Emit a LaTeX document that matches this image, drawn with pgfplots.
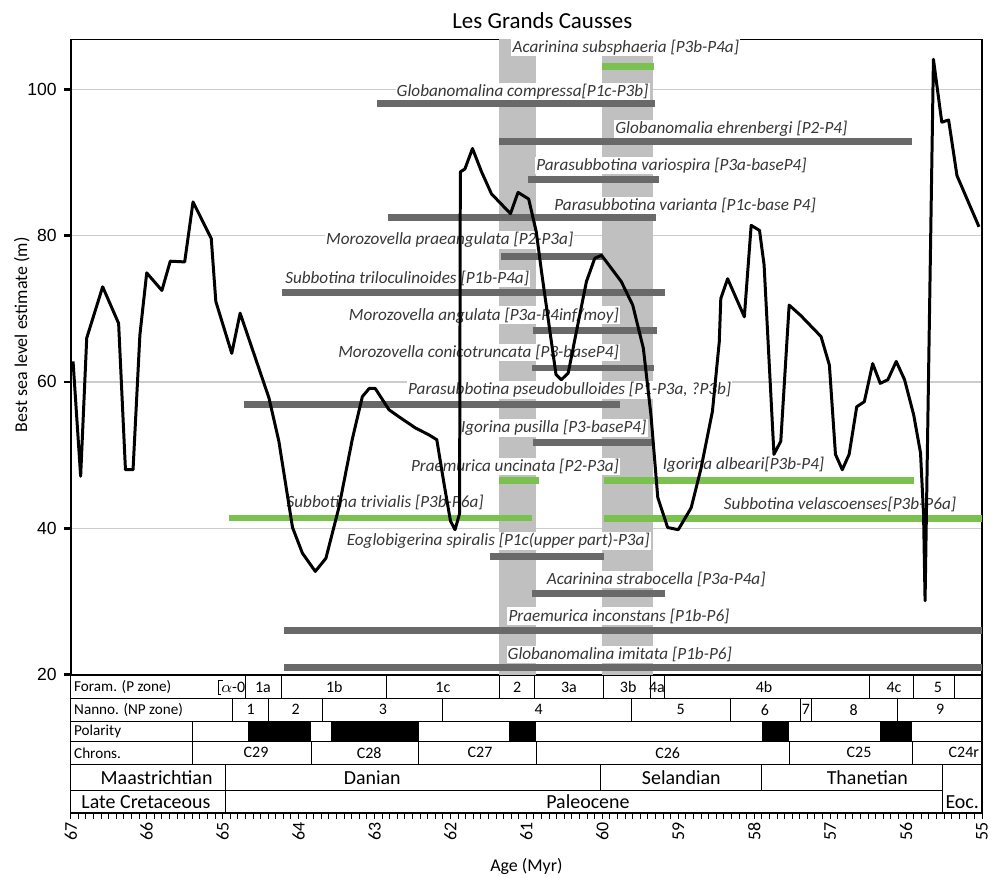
\documentclass[border=0pt]{standalone}
\usepackage{fontspec}
\setmainfont{Carlito}
\newfontfamily\arialf{Liberation Sans}
\usepackage{pgfplots}
\pgfplotsset{compat=1.18}
\definecolor{bargray}{RGB}{105,105,105}
\definecolor{bargreen}{RGB}{122,193,80}
\definecolor{bandgray}{RGB}{192,192,192}
\definecolor{labgray}{RGB}{55,55,55}
\tikzset{lab/.style={font=\itshape\fontsize{8.6}{10}\selectfont, text=labgray, fill=white, inner sep=0.6pt}}
\begin{document}
\begin{tikzpicture}
\useasboundingbox (0,0) rectangle (497pt,440.3pt);
\node[font=\fontsize{11.5}{13}\selectfont] at (272pt,430pt) {Les Grands Causses};
\begin{axis}[
 at={(35.5pt,102pt)}, anchor=south west,
 scale only axis, width=457pt, height=318.5pt,
 xmin=55, xmax=67, x dir=reverse,
 ymin=20, ymax=106.8,
 xtick=\empty,
 ytick={20,40,60,80,100},
 ytick pos=left, tick align=outside,
 major tick length=3.5pt,
 every tick/.style={black, line width=1.3pt},
 ymajorgrids, grid style={gray!40, line width=0.6pt},
 axis line style={line width=0.8pt},
 /pgf/number format/assume math mode=true,
 yticklabel style={font=\arialf\fontsize{8.8}{10}\selectfont},
 ylabel={Best sea level estimate (m)},
 ylabel style={font=\fontsize{9}{10}\selectfont, at={(axis description cs:-0.0536,0.535)}, anchor=center},
]
% gray bands
\addplot[draw=none, fill=bandgray] coordinates {(61.36,20) (60.88,20) (60.88,106.8) (61.36,106.8)};
\addplot[draw=none, fill=bandgray] coordinates {(60.00,20) (59.33,20) (59.33,106.8) (60.00,106.8)};
% labels
\node[lab] at (axis cs:59.69,105.7) {Acarinina subsphaeria [P3b-P4a]};
\node[lab] at (axis cs:61.05,99.7) {Globanomalina compressa[P1c-P3b]};
\node[lab] at (axis cs:58.30,94.6) {Globanomalia ehrenbergi [P2-P4]};
\node[lab] at (axis cs:59.09,89.6) {Parasubbotina variospira [P3a-baseP4]};
\node[lab] at (axis cs:58.91,84.1) {Parasubbotina varianta [P1c-base P4]};
\node[lab] at (axis cs:62.01,79.4) {Morozovella praeangulata [P2-P3a]};
\node[lab] at (axis cs:62.57,74.1) {Subbotina triloculinoides [P1b-P4a]};
\node[lab] at (axis cs:61.56,69.1) {Morozovella angulata [P3a-P4inf/moy]};
\node[lab] at (axis cs:61.63,64.0) {Morozovella conicotruncata [P3-baseP4]};
\node[lab] at (axis cs:60.43,58.9) {Parasubbotina pseudobulloides [P1-P3a, ?P3b]};
\node[lab] at (axis cs:60.64,53.7) {Igorina pusilla [P3-baseP4]};
\node[lab] at (axis cs:61.15,48.5) {Praemurica uncinata [P2-P3a]};
\node[lab] at (axis cs:58.14,48.7) {Igorina albeari[P3b-P4]};
\node[lab] at (axis cs:62.86,43.5) {Subbotina trivialis [P3b-P6a]};
\node[lab] at (axis cs:56.87,43.3) {Subbotina velascoenses[P3b-P6a]};
\node[lab] at (axis cs:61.37,38.3) {Eoglobigerina spiralis [P1c(upper part)-P3a]};
\node[lab] at (axis cs:59.29,33.0) {Acarinina strabocella [P3a-P4a]};
\node[lab] at (axis cs:59.78,28.0) {Praemurica inconstans [P1b-P6]};
\node[lab] at (axis cs:59.77,22.8) {Globanomalina imitata [P1b-P6]};
% range bars
\addplot[bargreen, line width=3.5pt] coordinates {(60.00,103.1) (59.32,103.1)};
\addplot[bargray, line width=3.5pt] coordinates {(62.97,98.1) (59.31,98.1)};
\addplot[bargray, line width=3.5pt] coordinates {(61.36,92.8) (55.92,92.8)};
\addplot[bargray, line width=3.5pt] coordinates {(60.98,87.7) (59.25,87.7)};
\addplot[bargray, line width=3.5pt] coordinates {(62.82,82.5) (59.29,82.5)};
\addplot[bargray, line width=3.5pt] coordinates {(61.33,77.2) (59.99,77.2)};
\addplot[bargray, line width=3.5pt] coordinates {(64.22,72.2) (59.18,72.2)};
\addplot[bargray, line width=3.5pt] coordinates {(60.91,67.0) (59.28,67.0)};
\addplot[bargray, line width=3.5pt] coordinates {(60.92,61.9) (59.32,61.9)};
\addplot[bargray, line width=3.5pt] coordinates {(64.72,56.9) (59.77,56.9)};
\addplot[bargray, line width=3.5pt] coordinates {(60.91,51.7) (59.32,51.7)};
\addplot[bargreen, line width=3.5pt] coordinates {(61.36,46.5) (60.83,46.5)};
\addplot[bargreen, line width=3.5pt] coordinates {(59.98,46.5) (55.90,46.5)};
\addplot[bargreen, line width=3.5pt] coordinates {(64.91,41.4) (60.93,41.4)};
\addplot[bargreen, line width=3.5pt] coordinates {(59.98,41.3) (55.00,41.3)};
\addplot[bargray, line width=3.5pt] coordinates {(61.48,36.2) (59.98,36.2)};
\addplot[bargray, line width=3.5pt] coordinates {(60.93,31.1) (59.17,31.1)};
\addplot[bargray, line width=3.5pt] coordinates {(64.19,26.0) (55.00,26.0)};
\addplot[bargray, line width=3.5pt] coordinates {(64.19,20.9) (55.00,20.9)};
% sea level curve
\addplot[black, line width=1.5pt, line join=round] coordinates {
(66.97,62.8) (66.87,47.1) (66.79,66.0) (66.58,73.0) (66.37,68.0) (66.28,48.0)
(66.18,48.0) (66.09,66.4) (66.00,74.9) (65.80,72.5) (65.69,76.5) (65.50,76.4)
(65.39,84.6) (65.15,79.6) (65.09,71.0) (64.88,63.9) (64.77,69.4) (64.39,57.8)
(64.26,51.9) (64.08,40.1) (63.95,36.6) (63.78,34.1) (63.64,35.9) (63.47,42.8)
(63.29,52.3) (63.16,58.0) (63.07,59.1) (62.99,59.1) (62.81,56.2) (62.66,55.1)
(62.46,53.7) (62.29,52.8) (62.18,52.1) (62.09,46.4) (62.00,41.0) (61.94,39.8)
(61.88,42.0) (61.87,88.7) (61.81,89.1) (61.71,91.9) (61.59,88.7) (61.46,85.7)
(61.21,83.0) (61.11,85.9) (60.97,85.0) (60.87,80.5) (60.80,75.0) (60.61,61.0)
(60.54,60.3) (60.45,61.2) (60.21,73.7) (60.10,76.9) (60.01,77.3) (59.75,73.7)
(59.60,70.5) (59.46,64.6) (59.36,55.5) (59.27,44.2) (59.14,40.1) (59.00,39.8)
(58.83,42.8) (58.70,48.2) (58.55,56.0) (58.46,65.5) (58.44,71.4) (58.35,74.1)
(58.13,68.9) (58.04,81.4) (57.93,80.7) (57.87,76.0) (57.74,50.1) (57.65,51.9)
(57.54,70.5) (57.39,69.1) (57.12,66.2) (57.01,62.3) (56.93,50.1) (56.84,48.0)
(56.75,50.1) (56.65,56.6) (56.55,57.3) (56.44,62.5) (56.34,59.8) (56.24,60.3)
(56.13,62.8) (56.02,60.3) (55.90,55.5) (55.81,50.3) (55.77,41.9) (55.75,30.1)
(55.64,104.1) (55.53,95.5) (55.44,95.8) (55.33,88.2) (55.04,81.2)
};
\end{axis}
% stratigraphic table
\begin{axis}[
 at={(35.5pt,32.65pt)}, anchor=south west,
 scale only axis, width=457pt, height=68.85pt,
 xmin=55, xmax=67, x dir=reverse,
 ymin=675, ymax=812.7, y dir=reverse,
 ytick=\empty,
 xtick={55,56,...,67}, minor x tick num=9,
 xtick pos=bottom, tick align=outside,
 major tick length=3pt, minor tick length=3pt,
 every tick/.style={black, line width=0.5pt},
 /pgf/number format/assume math mode=true,
 xticklabel style={rotate=90, anchor=east, inner sep=1.5pt, font=\fontsize{9}{10}\selectfont},
 xlabel={Age (Myr)},
 xlabel style={font=\fontsize{9}{10}\selectfont, at={(axis description cs:0.5,-0.387)}, anchor=center},
 axis line style={line width=0.7pt},
 clip=false,
]
\draw[line width=0.4pt] (axis cs:67,698) -- (axis cs:55,698);
\draw[line width=0.4pt] (axis cs:67,720.7) -- (axis cs:55,720.7);
\draw[line width=0.4pt] (axis cs:67,741) -- (axis cs:55,741);
\draw[line width=0.4pt] (axis cs:67,764) -- (axis cs:55,764);
\draw[line width=0.4pt] (axis cs:67,790) -- (axis cs:55.52,790);
\pgfplotsinvokeforeach{64.70,64.22,62.84,61.35,60.90,59.98,59.37,59.18,56.48,55.90,55.37}{\draw[line width=0.4pt] (axis cs:#1,675) -- (axis cs:#1,698);}
\pgfplotsinvokeforeach{64.87,64.40,63.69,62.10,59.62,58.32,57.39,57.25,56.12}{\draw[line width=0.4pt] (axis cs:#1,698) -- (axis cs:#1,720.7);}
\draw[line width=0.4pt] (axis cs:65.40,720.7) -- (axis cs:65.40,764);
\pgfplotsinvokeforeach{63.83,62.42,60.87,57.54,55.92}{\draw[line width=0.4pt] (axis cs:#1,741) -- (axis cs:#1,764);}
\pgfplotsinvokeforeach{64.96,60.02,57.90,55.52}{\draw[line width=0.4pt] (axis cs:#1,764) -- (axis cs:#1,790);}
\pgfplotsinvokeforeach{64.96,55.52}{\draw[line width=0.4pt] (axis cs:#1,790) -- (axis cs:#1,812.7);}
\draw[line width=0.4pt] (axis cs:65.00,679.5) -- (axis cs:65.05,679.5) -- (axis cs:65.05,694) -- (axis cs:65.02,694);
% polarity (normal) blocks
\addplot[draw=none, fill=black] coordinates {(64.66,720.7) (63.83,720.7) (63.83,741) (64.66,741)};
\addplot[draw=none, fill=black] coordinates {(63.57,720.7) (62.42,720.7) (62.42,741) (63.57,741)};
\addplot[draw=none, fill=black] coordinates {(61.23,720.7) (60.87,720.7) (60.87,741) (61.23,741)};
\addplot[draw=none, fill=black] coordinates {(57.90,720.7) (57.54,720.7) (57.54,741) (57.90,741)};
\addplot[draw=none, fill=black] coordinates {(56.34,720.7) (55.92,720.7) (55.92,741) (56.34,741)};
% row headers
\tikzset{rowh/.style={anchor=west, font=\fontsize{7.6}{9}\selectfont, inner sep=0pt}}
\node[rowh] at (axis cs:66.96,686.5) {Foram. (P zone)};
\node[rowh] at (axis cs:66.96,709.3) {Nanno. (NP zone)};
\node[rowh] at (axis cs:66.96,730.8) {Polarity};
\node[rowh] at (axis cs:66.96,752.5) {Chrons.};
\tikzset{zl/.style={font=\fontsize{8}{9}\selectfont, inner sep=0pt}}
\node[zl] at (axis cs:64.86,686.5) {$\alpha$-0};
\node[zl] at (axis cs:64.47,686.5) {1a};
\node[zl] at (axis cs:63.53,686.5) {1b};
\node[zl] at (axis cs:62.10,686.5) {1c};
\node[zl] at (axis cs:61.12,686.5) {2};
\node[zl] at (axis cs:60.44,686.5) {3a};
\node[zl] at (axis cs:59.66,686.5) {3b};
\node[zl] at (axis cs:59.28,686.5) {4a};
\node[zl] at (axis cs:57.87,686.5) {4b};
\node[zl] at (axis cs:56.16,686.5) {4c};
\node[zl] at (axis cs:55.58,686.5) {5};
\node[zl] at (axis cs:64.63,709.3) {1};
\node[zl] at (axis cs:64.04,709.3) {2};
\node[zl] at (axis cs:62.89,709.3) {3};
\node[zl] at (axis cs:60.84,709.3) {4};
\node[zl] at (axis cs:58.97,709.3) {5};
\node[zl] at (axis cs:57.86,709.3) {6};
\node[zl] at (axis cs:57.32,709.3) {7};
\node[zl] at (axis cs:56.69,709.3) {8};
\node[zl] at (axis cs:55.55,709.3) {9};
\node[zl] at (axis cs:64.56,752.5) {C29};
\node[zl] at (axis cs:63.07,752.5) {C28};
\node[zl] at (axis cs:61.61,752.5) {C27};
\node[zl] at (axis cs:59.14,752.5) {C26};
\node[zl] at (axis cs:56.62,752.5) {C25};
\node[zl] at (axis cs:55.24,752.5) {C24r};
\tikzset{st/.style={font=\fontsize{10}{12}\selectfont, inner sep=0pt}}
\node[st] at (axis cs:65.87,777) {Maastrichtian};
\node[st] at (axis cs:63.03,777) {Danian};
\node[st] at (axis cs:58.96,777) {Selandian};
\node[st] at (axis cs:56.51,777) {Thanetian};
\node[st] at (axis cs:66.01,801.5) {Late Cretaceous};
\node[st] at (axis cs:60.19,801.5) {Paleocene};
\node[st] at (axis cs:55.26,801.5) {Eoc.};
\end{axis}
\end{tikzpicture}
\end{document}
